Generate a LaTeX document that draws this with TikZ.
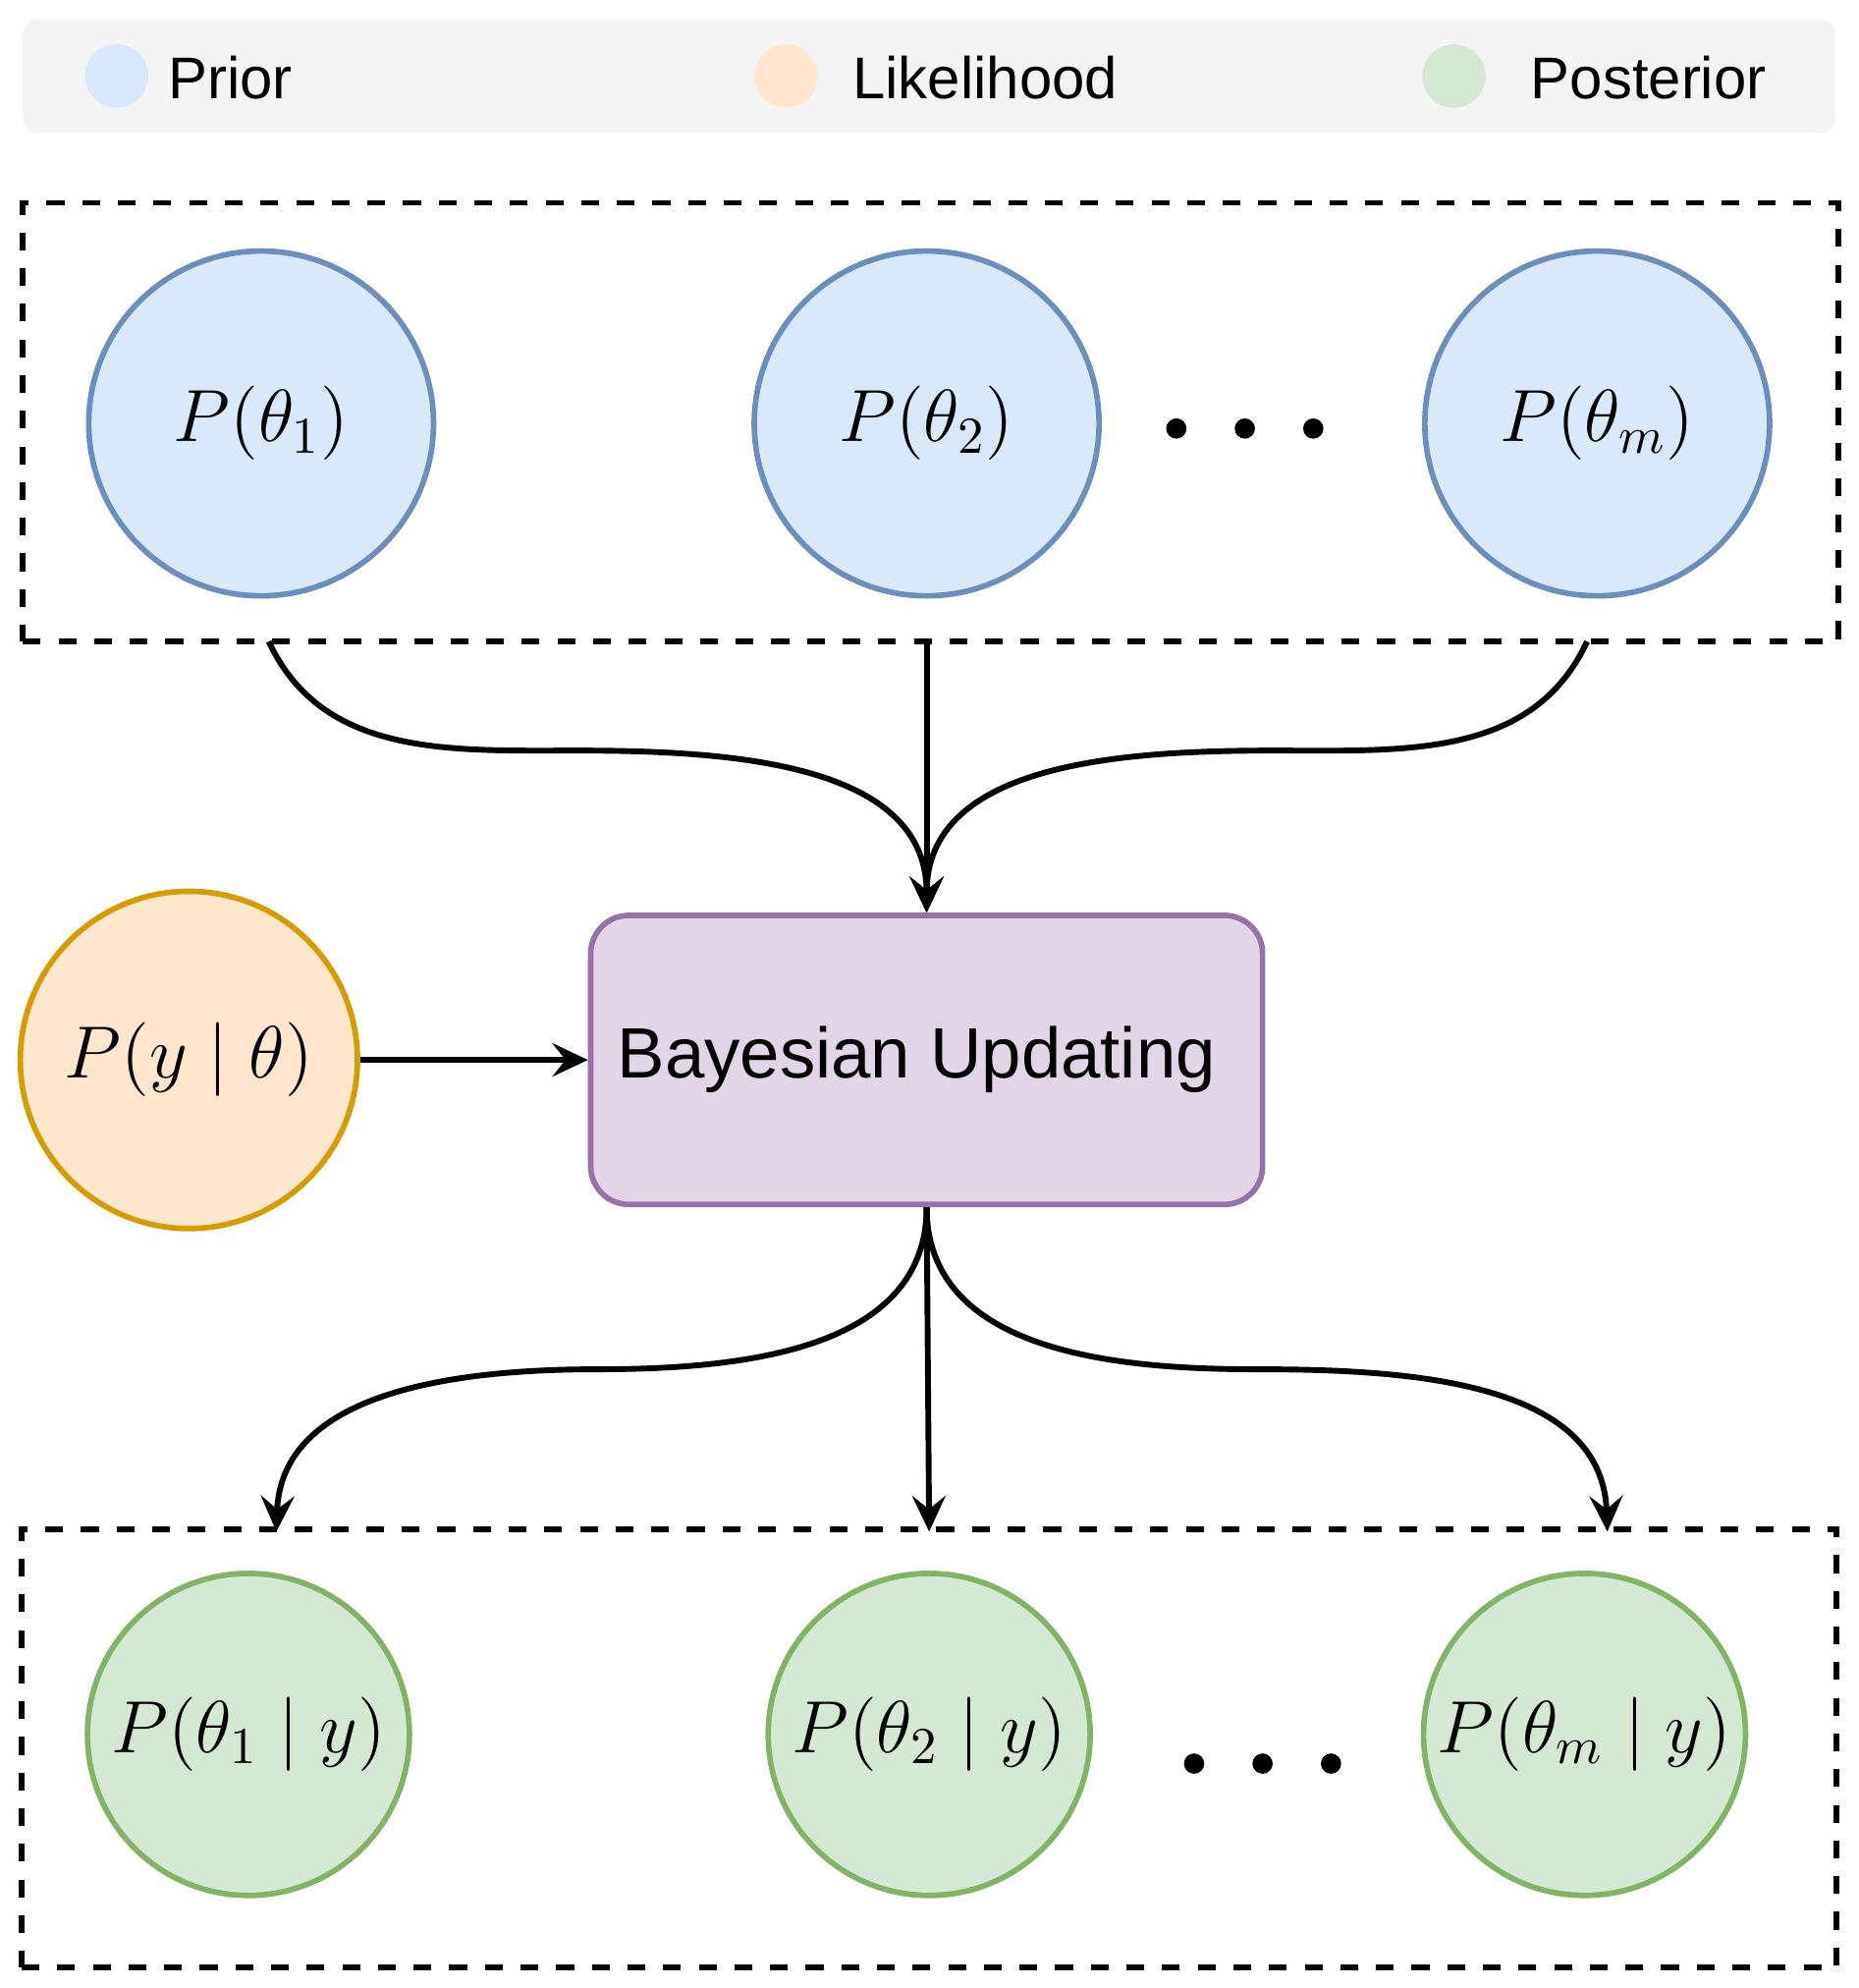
\RequirePackage{fix-cm}
\documentclass[tikz,border=0pt]{standalone}
\usepackage{amsmath}
\usepackage{amssymb}
\usepackage{fontspec}
\newfontfamily\helv{Liberation Sans}
\usepackage{tikz}
\usetikzlibrary{shapes,arrows.meta,backgrounds}
\definecolor{priorfill}{HTML}{DAE8FC}
\definecolor{priorline}{HTML}{6C8EBF}
\definecolor{likfill}{HTML}{FFE6CC}
\definecolor{likline}{HTML}{D79B00}
\definecolor{postfill}{HTML}{D5E8D4}
\definecolor{postline}{HTML}{82B366}
\definecolor{updfill}{HTML}{E1D5E7}
\definecolor{updline}{HTML}{9673A6}
\definecolor{legbg}{HTML}{F4F4F4}
\tikzset{
  prior_n/.style = {circle, draw=priorline, fill=priorfill, line width=1.25pt,
    minimum size=2.72cm, inner sep=0pt, font=\fontsize{16.6}{20}\selectfont},% prior node
  post_n/.style = {prior_n, draw=postline, fill=postfill,
    minimum size=2.54cm},% posterior node
  lik_n/.style = {prior_n, draw=likline, fill=likfill,
    minimum size=2.66cm},% likelihood node
  upd_n/.style = {rectangle, rounded corners=0.3cm, draw=updline, fill=updfill,
    line width=1.25pt, minimum width=5.3cm, minimum height=2.28cm,
    font=\helv\fontsize{16}{19}\selectfont},% update box
  grp_n/.style = {rectangle, draw=black, line width=1.3pt,
    dash pattern=on 4pt off 4pt, minimum width=14.32cm,
    minimum height=3.46cm},% dashed group
  leg_n/.style = {circle, minimum size=0.5cm, inner sep=0pt},% legend dot
  leg_t/.style = {anchor=base west, inner sep=0pt,
    font=\helv\fontsize{13.2}{16}\selectfont},% legend text
  con/.style = {->, >={Stealth[length=8pt,width=7.5pt,inset=3pt]},
    line width=1.3pt}% connector
}

\begin{document}
\begin{tikzpicture}[x=0.1mm,y=0.1mm]
        \useasboundingbox (0,0) rectangle (1466,1568);
        % legend
        \node [rectangle, rounded corners=0.12cm, fill=legbg, minimum width=14.3cm,
            minimum height=0.9cm](leg) at (733,1508){};
        \node [leg_n, fill=priorfill](lp) at (92,1508){};
        \node [leg_n, fill=likfill](ll) at (620,1508){};
        \node [leg_n, fill=postfill](lq) at (1147,1508){};
        \node [leg_t](tp) at (132,1490){Prior};
        \node [leg_t](tl) at (672,1490){Likelihood};
        \node [leg_t](tq) at (1207,1490){Posterior};

        % priors
        \node [grp_n](top) at (734,1235){};
        \node [prior_n](p1) at (206,1234){$P(\theta_1)$};
        \node [prior_n](p2) at (731,1234){$P(\theta_2)$};
        \node [prior_n](pm) at (1260,1234){$P(\theta_m)$};
        \foreach \x in {928,982,1036}
            \fill (\x,1230) circle (0.08cm);

        % update
        \node [upd_n](upd) at (731,732){\hspace*{-0.16cm}Bayesian Updating};
        \node [lik_n](lik) at (149,732){$P(y \mid \theta)$};

        % posteriors
        \node [grp_n](bot) at (733,189){};
        \node [post_n](q1) at (196,200){$P(\theta_1 \mid y)$};
        \node [post_n](q2) at (733,200){$P(\theta_2 \mid y)$};
        \node [post_n](qm) at (1250,200){$P(\theta_m \mid y)$};
        \foreach \x in {942,996,1050}
            \fill (\x,177) circle (0.08cm);

        % connectors
        \coordinate (s1) at (212,1062);
        \coordinate (s2) at (731,1062);
        \coordinate (sm) at (1252,1062);
        \coordinate (h1) at (455,976);
        \coordinate (hm) at (1005,976);
        \coordinate (e1) at (218,360);
        \coordinate (e2) at (733,360);
        \coordinate (em) at (1268,360);
        \coordinate (g1) at (471,488);
        \coordinate (gm) at (991,488);
        \draw [con] (s1) to[out=-65,in=180] (h1) to[out=0,in=90] (upd.north);
        \draw [con] (s2) -- (upd.north);
        \draw [con] (sm) to[out=-115,in=0] (hm) to[out=180,in=90] (upd.north);
        \draw [con] (lik.east) -- (upd.west);
        \draw [con] (upd.south) to[out=-90,in=0] (g1) to[out=180,in=88] (e1);
        \draw [con] (upd.south) -- (e2);
        \draw [con] (upd.south) to[out=-90,in=180] (gm) to[out=0,in=92] (em);
\end{tikzpicture}
\end{document}
